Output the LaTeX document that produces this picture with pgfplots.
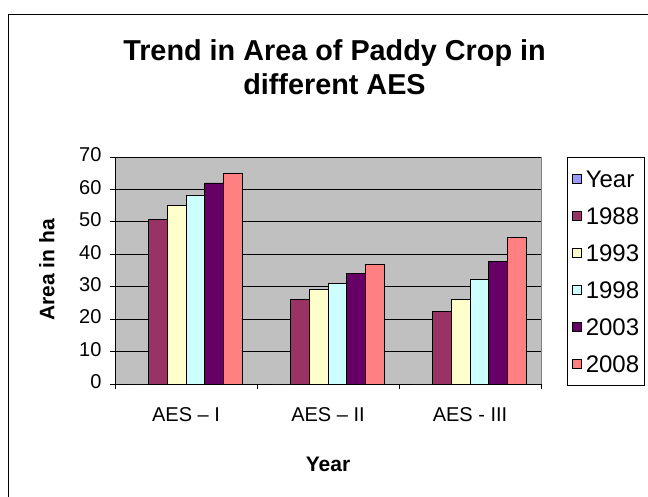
\documentclass[border=0pt]{standalone}
\usepackage{fontspec}
\setmainfont{Liberation Sans}
\usepackage{pgfplots}
\pgfplotsset{compat=1.18}

\definecolor{yearblue}{HTML}{9999FF}
\definecolor{cA}{HTML}{993366}
\definecolor{cB}{HTML}{FFFFCC}
\definecolor{cC}{HTML}{CCFFFF}
\definecolor{cD}{HTML}{660066}
\definecolor{cE}{HTML}{FF8080}
\definecolor{plotgray}{HTML}{C0C0C0}
\definecolor{framegray}{HTML}{808080}

\begin{document}
\begin{tikzpicture}
\useasboundingbox (0bp,0bp) rectangle (648bp,-497bp);
\clip (0bp,0bp) rectangle (648bp,-497bp);
% chart area frame
\draw[line width=1bp] (8bp,-520bp) -- (8bp,-14bp) -- (680bp,-14bp);
% chart title
\node[font=\bfseries\fontsize{28.8bp}{34bp}\selectfont, align=center, inner sep=0pt]
  at (334.5bp,-67bp) {Trend in Area of Paddy Crop in\\different AES};
\begin{axis}[
  at={(115bp,-384bp)}, anchor=south west,
  scale only axis, width=426bp, height=227bp,
  ybar=0pt, bar width=0.1324,
  xmin=-0.5, xmax=2.5, ymin=0, ymax=70,
  xtick={0,1,2},
  xticklabels={AES – I, AES – II, AES - III},
  minor xtick={-0.5,0.5,1.5,2.5},
  ytick={0,10,...,70},
  tick align=outside,
  major tick length=5bp, minor tick length=5bp,
  tick style={black, line width=0.8bp},
  major x tick style={draw=none},
  axis x line*=bottom, axis y line*=left,
  axis line style={black, line width=0.8bp, -},
  axis background/.style={fill=plotgray, draw=framegray, line width=0.8bp},
  ymajorgrids, grid style={black, line width=0.8bp},
  /pgf/number format/assume math mode=true,
  tick label style={font=\fontsize{20bp}{24bp}\selectfont},
  typeset ticklabels with strut,
  xticklabel style={yshift=-12bp},
  yticklabel style={xshift=-5bp},
  xlabel={Year},
  xlabel style={at={(axis description cs:0.5,-0.352)}, anchor=center,
    font=\bfseries\fontsize{21bp}{25bp}\selectfont},
  ylabel={Area in ha},
  ylabel style={at={(axis description cs:-0.16,0.502)}, anchor=center,
    font=\bfseries\fontsize{21bp}{25bp}\selectfont},
  legend style={at={(axis description cs:1.061,1)}, anchor=north west,
    draw=black, line width=0.8bp, fill=white,
    inner xsep=5bp, inner ysep=12.5bp, row sep=19bp,
    font=\fontsize{24bp}{28bp}\selectfont,
    nodes={inner sep=0pt, text height=18bp, text depth=0bp},
    /tikz/every odd column/.append style={column sep=4bp}},
  legend cell align=left,
  legend image code/.code={\draw[#1, draw=black, line width=0.8bp] (0bp,-4.3bp) rectangle (8.6bp,4.3bp);},
  every axis plot/.append style={draw=black, line width=0.8bp},
]
\addplot[fill=yearblue] coordinates {(0,0) (1,0) (2,0)};
\addplot[fill=cA] coordinates {(0,50.8) (1,26.0) (2,22.4)};
\addplot[fill=cB] coordinates {(0,55.0) (1,29.1) (2,26.0)};
\addplot[fill=cC] coordinates {(0,58.3) (1,31.0) (2,32.3)};
\addplot[fill=cD] coordinates {(0,62.0) (1,34.1) (2,37.8)};
\addplot[fill=cE] coordinates {(0,65.0) (1,37.0) (2,45.2)};
\legend{Year,1988,1993,1998,2003,2008}
\end{axis}
\end{tikzpicture}
\end{document}
